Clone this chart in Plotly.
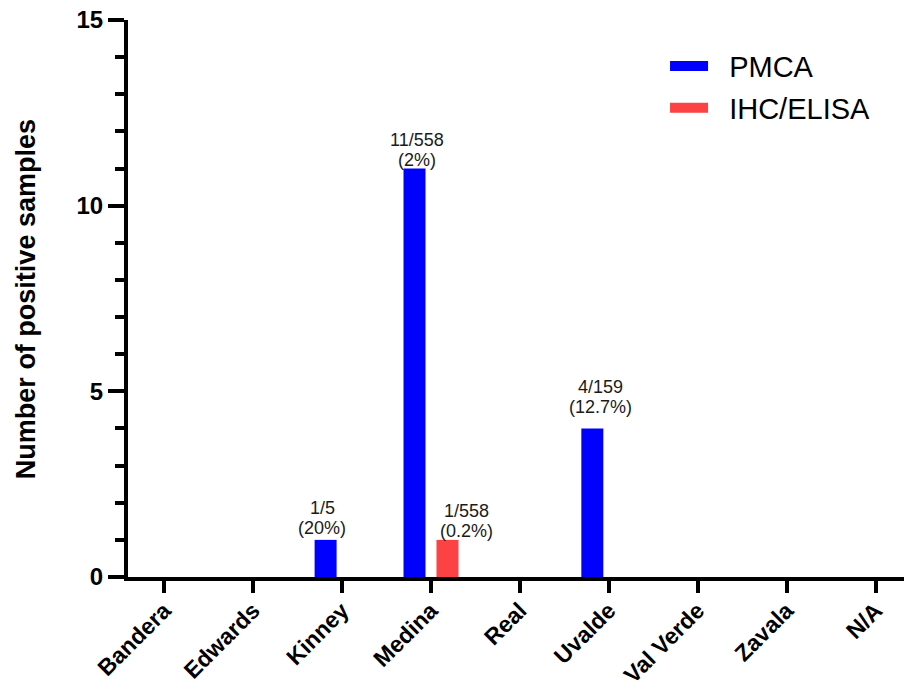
import plotly.graph_objects as go

counties = ["Bandera", "Edwards", "Kinney", "Medina", "Real", "Uvalde", "Val Verde", "Zavala", "N/A"]
pmca = [0, 0, 1, 11, 0, 4, 0, 0, 0]
ihc_elisa = [0, 0, 0, 1, 0, 0, 0, 0, 0]

pmca_frac = ["", "", "1/5", "11/558", "", "4/159", "", "", ""]
pmca_pct = ["", "", "(20%)", "(2%)", "", "(12.7%)", "", "", ""]
ihc_frac = ["", "", "", "1/558", "", "", "", "", ""]
ihc_pct = ["", "", "", "(0.2%)", "", "", "", "", ""]

# label placement (pixels): x offset from category centre, gap of lower line above bar top
pmca_place = {2: (-20, 12), 3: (-14, 9), 5: (-8, 21)}
ihc_place = {3: (35, 9)}
LINE_STEP = 20

BLUE = "#0000FF"
RED = "#FC4242"
FONT = "Arial, Liberation Sans, Helvetica, sans-serif"
PAD = "\u00a0\u00a0"  # gap between legend swatch and legend text

fig = go.Figure()
fig.add_trace(go.Bar(x=counties, y=pmca, name="PMCA", marker=dict(color=BLUE, line=dict(width=0)),
                     showlegend=False))
fig.add_trace(go.Bar(x=counties, y=ihc_elisa, name="IHC/ELISA", marker=dict(color=RED, line=dict(width=0)),
                     showlegend=False))
# legend proxies (wide rectangular swatches)
fig.add_trace(go.Scatter(x=[None], y=[None], mode="lines", name=PAD + "PMCA",
                         line=dict(color=BLUE, width=17), legendgroup="a"))
fig.add_trace(go.Scatter(x=[None], y=[None], mode="lines", name=PAD + "IHC/ELISA",
                         line=dict(color=RED, width=17), legendgroup="b"))

annotations = []


def add_labels(fracs, pcts, values, place):
    for i, (fr, pc, v) in enumerate(zip(fracs, pcts, values)):
        if not fr:
            continue
        dx, gap = place.get(i, (0, 8))
        for txt, shift in ((pc, gap), (fr, gap + LINE_STEP)):
            annotations.append(dict(x=counties[i], y=v, text=txt, showarrow=False, xanchor="center",
                                    yanchor="middle", xshift=dx, yshift=shift,
                                    font=dict(family=FONT, size=18, color="#1a1a1a")))


add_labels(pmca_frac, pmca_pct, pmca, pmca_place)
add_labels(ihc_frac, ihc_pct, ihc_elisa, ihc_place)

annotations.append(dict(text="Number of positive samples", textangle=-90, showarrow=False,
                        xref="paper", yref="paper", x=-0.130, y=0.499, xanchor="center", yanchor="middle",
                        font=dict(family=FONT, size=27, color="black", weight="bold")))

fig.update_layout(
    width=904, height=682,
    margin=dict(l=120, r=0, t=12, b=113),
    paper_bgcolor="white", plot_bgcolor="white",
    barmode="group", bargap=0.258, bargroupgap=0.333,
    font=dict(family=FONT, color="black"),
    showlegend=True,
    legend=dict(x=0.685, y=0.963, xanchor="left", yanchor="top",
                font=dict(family=FONT, size=29, color="black"),
                bgcolor="rgba(0,0,0,0)", tracegroupgap=1, itemwidth=38),
    annotations=annotations,
)
fig.update_xaxes(
    range=[-0.408, 8.41], showline=True, linecolor="black", linewidth=4,
    ticks="outside", ticklen=12, tickwidth=4, tickcolor="black",
    tickangle=-45, tickfont=dict(family=FONT, size=23, color="black", weight="bold"),
    ticklabelstandoff=-5, ticklabeloverflow="allow",
    showgrid=False, zeroline=False, automargin=False,
)
fig.update_yaxes(
    range=[0, 15], tickvals=[0, 5, 10, 15], showline=True, linecolor="black", linewidth=4,
    ticks="outside", ticklen=16, tickwidth=4, tickcolor="black",
    minor=dict(dtick=1, ticks="outside", ticklen=9, tickwidth=4, tickcolor="black"),
    tickfont=dict(family=FONT, size=24, color="black", weight="bold"),
    ticklabeloverflow="allow",
    showgrid=False, zeroline=False, automargin=False,
)

fig.write_html("out.html")
